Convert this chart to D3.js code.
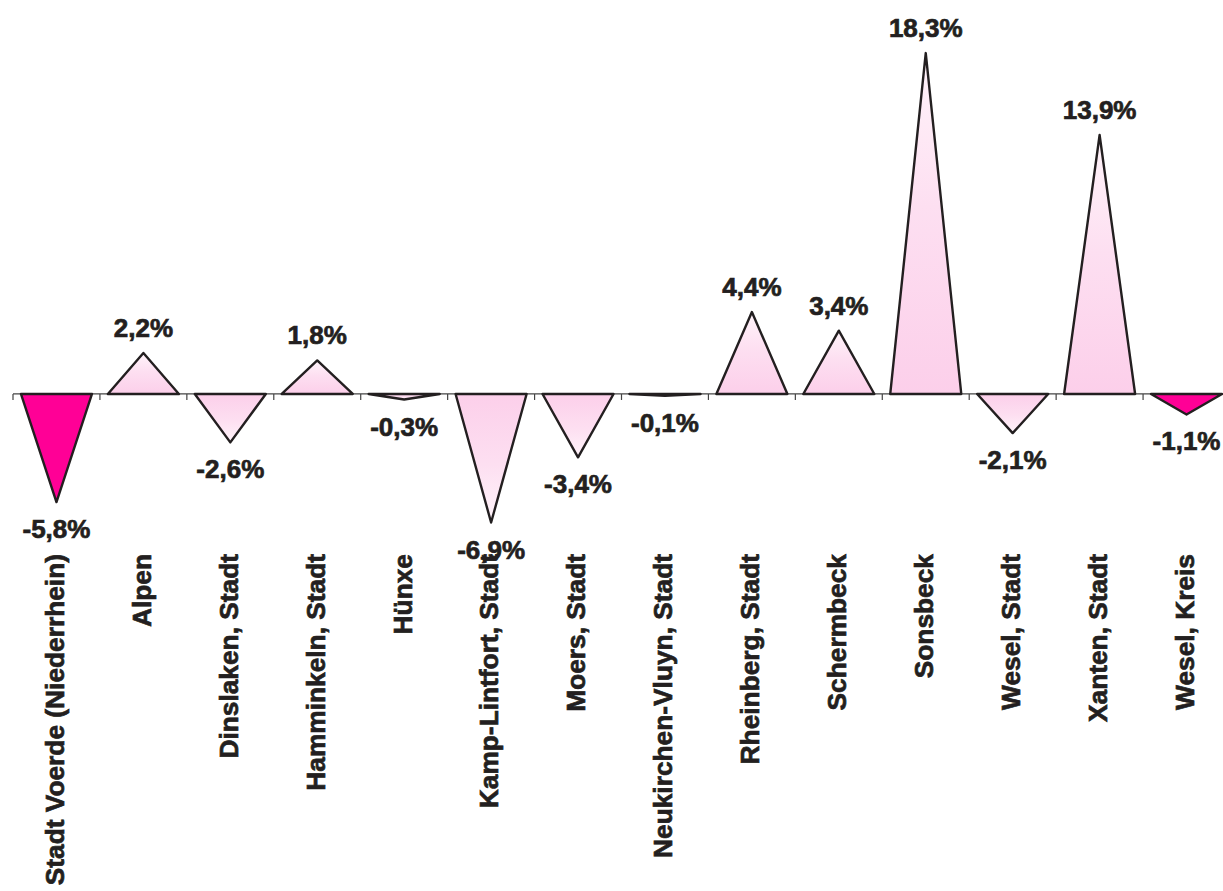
<!DOCTYPE html>
<html>
<head>
<meta charset="utf-8">
<script src="https://cdn.jsdelivr.net/npm/d3@7"></script>
<style>
  html, body { margin: 0; padding: 0; background: #fff; }
  svg { display: block; }
  text {
    font-family: "Liberation Sans", Arial, sans-serif;
    font-weight: bold;
    fill: #231f20;
    stroke: #231f20;
    stroke-width: 0.7px;
  }
</style>
</head>
<body>
<svg id="chart" width="1223" height="891"></svg>
<script>
// Municipalities of Kreis Wesel and their change in percent
const categories = [
  "Stadt Voerde (Niederrhein)", "Alpen", "Dinslaken, Stadt", "Hamminkeln, Stadt",
  "Hünxe", "Kamp-Lintfort, Stadt", "Moers, Stadt", "Neukirchen-Vluyn, Stadt",
  "Rheinberg, Stadt", "Schermbeck", "Sonsbeck", "Wesel, Stadt", "Xanten, Stadt", "Wesel, Kreis"
];
const values = [-5.8, 2.2, -2.6, 1.8, -0.3, -6.9, -3.4, -0.1, 4.4, 3.4, 18.3, -2.1, 13.9, -1.1];
const valueLabels = ["-5,8%", "2,2%", "-2,6%", "1,8%", "-0,3%", "-6,9%", "-3,4%", "-0,1%", "4,4%", "3,4%", "18,3%", "-2,1%", "13,9%", "-1,1%"];
const highlighted = ["Stadt Voerde (Niederrhein)", "Wesel, Kreis"];

const svg = d3.select("#chart");

const x = d3.scaleBand()
  .domain(categories)
  .range([13, 1230])
  .paddingInner(0.183)
  .paddingOuter(0.0915);

const y = d3.scaleLinear()
  .domain([-8, 20])
  .range([543.0, 21.4]);

const defs = svg.append("defs");

// Soft pink fade from the base of each triangle toward its tip
function gradientFor(i, v) {
  const id = "fade" + i;
  const g = defs.append("linearGradient")
    .attr("id", id)
    .attr("x1", 0).attr("x2", 0)
    .attr("y1", v >= 0 ? 1 : 0)
    .attr("y2", v >= 0 ? 0 : 1);
  g.append("stop").attr("offset", "0%").attr("stop-color", "#fccfea");
  g.append("stop").attr("offset", "55%").attr("stop-color", "#fddff1");
  g.append("stop").attr("offset", "100%").attr("stop-color", "#fff4fa");
  return "url(#" + id + ")";
}

const y0 = y(0);

// Baseline and category boundary ticks
const step = x.step();
svg.append("line")
  .attr("x1", x.range()[0]).attr("x2", 1223)
  .attr("y1", y0).attr("y2", y0)
  .attr("stroke", "#444").attr("stroke-width", 1.2);
svg.selectAll("line.tick")
  .data(d3.range(categories.length + 1))
  .join("line")
  .attr("class", "tick")
  .attr("x1", i => x.range()[0] + i * step)
  .attr("x2", i => x.range()[0] + i * step)
  .attr("y1", y0).attr("y2", y0 + 6)
  .attr("stroke", "#444").attr("stroke-width", 1.2);

// Triangles
const data = categories.map((c, i) => ({ c, v: values[i], label: valueLabels[i], i }));

svg.selectAll("path.tri")
  .data(data)
  .join("path")
  .attr("class", "tri")
  .attr("d", d => {
    const x0 = x(d.c), x1 = x(d.c) + x.bandwidth(), xm = x(d.c) + x.bandwidth() / 2;
    return `M${x0},${y0}L${xm},${y(d.v)}L${x1},${y0}Z`;
  })
  .attr("fill", d => highlighted.includes(d.c) ? "#ff0096" : gradientFor(d.i, d.v))
  .attr("stroke", "#231f20")
  .attr("stroke-width", 2.4)
  .attr("stroke-linejoin", "round");

// Value labels
svg.selectAll("text.val")
  .data(data)
  .join("text")
  .attr("class", "val")
  .attr("x", d => x(d.c) + x.bandwidth() / 2)
  .attr("y", d => d.v >= 0 ? y(d.v) - 16 : y(d.v) + 36)
  .attr("text-anchor", "middle")
  .attr("font-size", 26)
  .text(d => d.label);

// Category labels, rotated
svg.selectAll("text.cat")
  .data(data)
  .join("text")
  .attr("class", "cat")
  .attr("transform", d => `translate(${x(d.c) + x.bandwidth() / 2},554) rotate(-90)`)
  .attr("dy", "0.28em")
  .attr("text-anchor", "end")
  .attr("font-size", 26.3)
  .text(d => d.c);
</script>
</body>
</html>
